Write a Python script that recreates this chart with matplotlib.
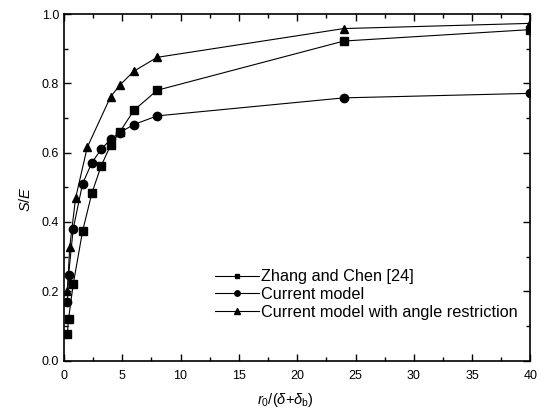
import matplotlib
matplotlib.use("Agg")
import matplotlib.pyplot as plt
from matplotlib.ticker import MultipleLocator, FormatStrFormatter

plt.rcParams["font.family"] = ["Liberation Sans", "DejaVu Sans"]
plt.rcParams["mathtext.fontset"] = "custom"
plt.rcParams["mathtext.it"] = "Liberation Sans:italic"
plt.rcParams["mathtext.rm"] = "Liberation Sans"

# Zhang and Chen [24]
zhang_x = [0.3, 0.4, 0.8, 1.6, 2.4, 3.2, 4.0, 4.8, 6.0, 8.0, 24.0, 40.0]
zhang_y = [0.077, 0.12, 0.22, 0.373, 0.483, 0.562, 0.621, 0.66, 0.722, 0.78, 0.922, 0.955]

# Current model
current_x = [0.3, 0.4, 0.8, 1.6, 2.4, 3.2, 4.0, 4.8, 6.0, 8.0, 24.0, 40.0]
current_y = [0.168, 0.246, 0.38, 0.51, 0.571, 0.61, 0.638, 0.658, 0.681, 0.706, 0.758, 0.771]

# Current model with angle restriction
angle_x = [0.3, 0.5, 1.0, 2.0, 4.0, 4.8, 6.0, 8.0, 24.0, 40.0]
angle_y = [0.202, 0.327, 0.468, 0.615, 0.761, 0.795, 0.835, 0.875, 0.958, 0.973]

fig = plt.figure(figsize=(5.46, 4.12), dpi=100)
ax = fig.add_axes([0.117, 0.125, 0.8546, 0.841])

style = dict(color="black", linewidth=0.8)
ax.plot(zhang_x, zhang_y, marker="s", markersize=5.3, label="Zhang and Chen [24]", **style)
ax.plot(current_x, current_y, marker="o", markersize=6, label="Current model", **style)
ax.plot(angle_x, angle_y, marker="^", markersize=6.3,
        label="Current model with angle restriction", **style)

ax.set_xlim(0, 40)
ax.set_ylim(0.0, 1.0)
ax.xaxis.set_major_locator(MultipleLocator(5))
ax.xaxis.set_minor_locator(MultipleLocator(2.5))
ax.yaxis.set_major_locator(MultipleLocator(0.2))
ax.yaxis.set_minor_locator(MultipleLocator(0.1))
ax.yaxis.set_major_formatter(FormatStrFormatter("%.1f"))
ax.tick_params(which="both", direction="in", top=True, right=True, labelsize=9, width=1)
ax.tick_params(which="major", length=5)
ax.tick_params(which="minor", length=3)
ax.tick_params(axis="x", which="major", pad=7)
for spine in ax.spines.values():
    spine.set_linewidth(1.2)

ax.set_xlabel(r"$r_0/(\delta$+$\delta_\mathrm{b})$", fontsize=10.5)
ax.xaxis.set_label_coords(0.475, -0.088)
ax.set_ylabel(r"$S/E$", fontsize=10.5)
ax.yaxis.set_label_coords(-0.067, 0.465)

ax.legend(loc="upper left", bbox_to_anchor=(0.324, 0.263), frameon=False,
          fontsize=11.7, handlelength=2.7, handletextpad=0.15, labelspacing=0.17,
          borderpad=0, borderaxespad=0, markerscale=0.65)

fig.savefig("out.png", dpi=100)
